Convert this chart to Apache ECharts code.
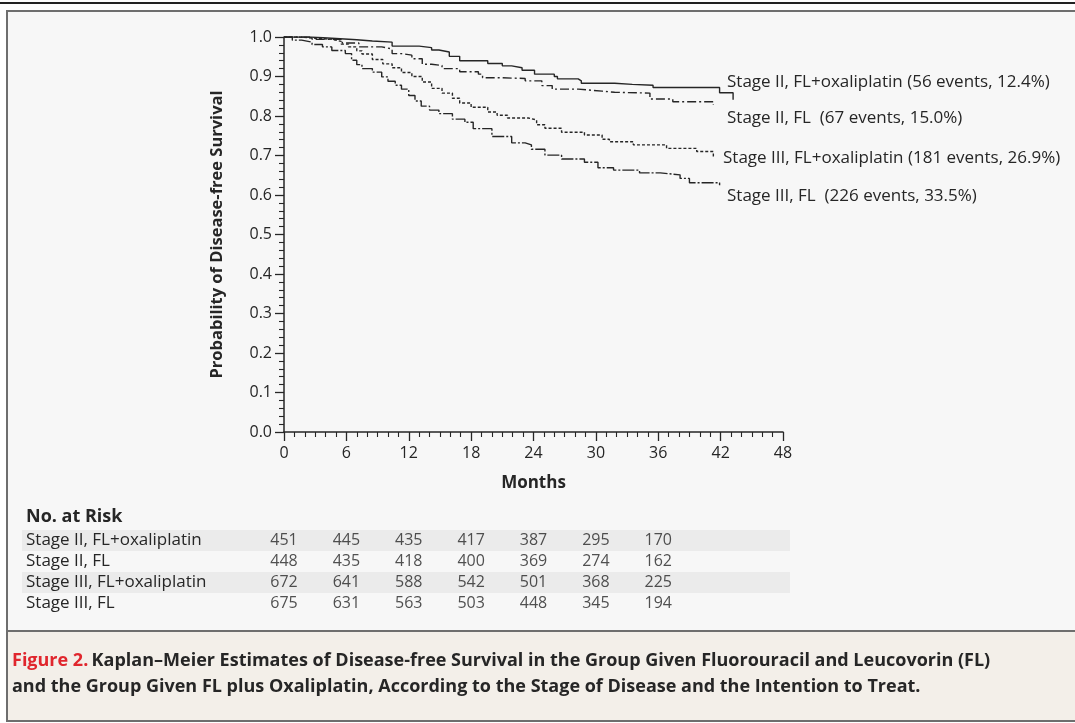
<!DOCTYPE html>
<html><head><meta charset="utf-8">
<script src="https://cdn.jsdelivr.net/npm/echarts@6/dist/echarts.min.js"></script>
<style>html,body{margin:0;padding:0;background:#fff}#c{width:1075px;height:723px}</style>
</head><body><div id="c"></div>
<script>
// ---- data ----
const monthTicks = [0, 6, 12, 18, 24, 30, 36, 42, 48];
const seriesNames = ['Stage II, FL+oxaliplatin', 'Stage II, FL', 'Stage III, FL+oxaliplatin', 'Stage III, FL'];
const curveLabels = [
  'Stage II, FL+oxaliplatin (56 events, 12.4%)',
  'Stage II, FL  (67 events, 15.0%)',
  'Stage III, FL+oxaliplatin (181 events, 26.9%)',
  'Stage III, FL  (226 events, 33.5%)'
];
const stage2Oxa = [[0,1],[2.5,0.997],[4.6,0.993],[7,0.99],[8.5,0.987],[10.4,0.977],[13,0.973],[14.2,0.967],[14.9,0.962],[15.9,0.951],[16.9,0.94],[19.6,0.933],[21,0.927],[21.9,0.922],[22.9,0.916],[24.1,0.906],[26,0.9],[26.3,0.894],[28.3,0.889],[28.6,0.883],[31.8,0.88],[33.5,0.878],[35.5,0.872],[41.9,0.859],[43.2,0.841]];
const stage2FL = [[0,1],[2.7,0.994],[5.6,0.985],[7.2,0.975],[9.4,0.97],[10.4,0.958],[11.3,0.954],[12.3,0.945],[13.3,0.931],[14.2,0.928],[15.2,0.92],[16.9,0.912],[18.7,0.906],[19.1,0.897],[20.6,0.895],[23.2,0.889],[24.8,0.877],[25.8,0.868],[28.3,0.863],[30.6,0.86],[31.8,0.858],[35.2,0.843],[37.4,0.836],[41.3,0.828]];
const stage3Oxa = [[0,1],[1.5,0.997],[3,0.994],[4.6,0.989],[5.5,0.982],[6.2,0.975],[7,0.965],[7.5,0.957],[8.5,0.943],[9.5,0.932],[10.4,0.922],[11.3,0.91],[12.3,0.9],[13.3,0.886],[14.2,0.87],[15.2,0.858],[16.2,0.845],[16.9,0.833],[18,0.822],[19.6,0.81],[20.5,0.802],[21.5,0.795],[23.5,0.79],[24.3,0.778],[25.1,0.769],[26.7,0.759],[28.9,0.752],[30.6,0.741],[31.3,0.735],[33.6,0.727],[36.8,0.718],[39.7,0.71],[41.3,0.697]];
const stage3FL = [[0,1],[0.8,0.992],[1.7,0.987],[2.7,0.981],[3.7,0.975],[4.6,0.966],[5.9,0.958],[6.5,0.941],[7,0.93],[7.5,0.92],[8.5,0.911],[9.4,0.899],[10,0.888],[10.7,0.878],[11.3,0.868],[12,0.852],[12.6,0.838],[13.2,0.825],[14,0.815],[14.9,0.806],[16.2,0.792],[17.4,0.784],[18.2,0.768],[20,0.748],[21.9,0.732],[23.2,0.727],[23.8,0.716],[25.1,0.701],[26.7,0.691],[28.9,0.683],[30.2,0.669],[31.7,0.663],[34.2,0.656],[36.2,0.651],[38.1,0.642],[39,0.631],[41.9,0.625]];
const riskMonths = [0, 6, 12, 18, 24, 30, 36];
const risk2Oxa = [451, 445, 435, 417, 387, 295, 170];
const risk2FL = [448, 435, 418, 400, 369, 274, 162];
const risk3Oxa = [672, 641, 588, 542, 501, 368, 225];
const risk3FL = [675, 631, 563, 503, 448, 345, 194];
const captionLead = 'Figure 2.';
const captionLine1 = 'Kaplan–Meier Estimates of Disease-free Survival in the Group Given Fluorouracil and Leucovorin (FL)';
const captionLine2 = 'and the Group Given FL plus Oxaliplatin, According to the Stage of Disease and the Intention to Treat.';

// ---- chart ----
const FONT = '"Open Sans"';
const INK = '#262626';
const curves = [stage2Oxa, stage2FL, stage3Oxa, stage3FL];
const dashes = ['solid', [9, 3, 2, 3], [3, 2], [12, 2, 2, 2]];
const risks = [risk2Oxa, risk2FL, risk3Oxa, risk3FL];

const chart = echarts.init(document.getElementById('c'), null, {renderer: 'canvas'});

const series = curves.map((d, i) => ({
  type: 'line', name: seriesNames[i], data: d, step: 'end', symbol: 'none',
  xAxisIndex: 0, yAxisIndex: 0, silent: true,
  lineStyle: {color: INK, width: 1.4, type: dashes[i]}
}));
risks.forEach((r, i) => {
  series.push({
    type: 'scatter', xAxisIndex: 1, yAxisIndex: 1, symbolSize: 1, silent: true,
    itemStyle: {color: 'rgba(0,0,0,0)'},
    data: riskMonths.map((m, k) => [m, seriesNames[i], r[k]]),
    label: {show: true, position: 'inside', formatter: p => p.value[2], fontFamily: FONT, fontSize: 16, color: INK}
  });
});

const labelY = [82, 118, 158, 196];
const labelX = [727, 727, 723, 727];
const graphics = [
  {type: 'rect', z: -20, shape: {x: 0, y: 2, width: 1075, height: 2}, style: {fill: '#222'}},
  {type: 'rect', z: -20, shape: {x: 7, y: 11, width: 1080, height: 710}, style: {fill: '#f7f7f7', stroke: '#6e6e6e', lineWidth: 2}},
  {type: 'rect', z: -19, shape: {x: 7, y: 631, width: 1080, height: 90}, style: {fill: '#f3efe9', stroke: '#6e6e6e', lineWidth: 2}},
  {type: 'rect', z: -18, shape: {x: 22, y: 530, width: 768, height: 21}, style: {fill: '#ebebeb'}},
  {type: 'rect', z: -18, shape: {x: 22, y: 572, width: 768, height: 21}, style: {fill: '#ebebeb'}},
  {type: 'text', x: 26, y: 517, style: {text: 'No. at Risk', font: 'bold 18px ' + FONT, fill: INK, verticalAlign: 'middle'}},
  {type: 'text', x: 12, y: 648, style: {
    text: '{r|' + captionLead + '} {b|' + captionLine1 + '}\n{b|' + captionLine2 + '}',
    rich: {
      r: {fontFamily: FONT, fontWeight: 'bold', fontSize: 18, fill: '#e0262d', lineHeight: 26},
      b: {fontFamily: FONT, fontWeight: 'bold', fontSize: 18, fill: '#262626', lineHeight: 26}
    }
  }}
];
curveLabels.forEach((t, i) => graphics.push({
  type: 'text', x: labelX[i], y: labelY[i],
  style: {text: t, font: '17px ' + FONT, fill: INK, verticalAlign: 'middle'}
}));

const axisTxt = {fontFamily: FONT, fontSize: 16, color: INK};
chart.setOption({
  animation: false,
  backgroundColor: 'transparent',
  grid: [
    {left: 284, top: 37, width: 499, height: 395},
    {left: 284, top: 530, width: 499, height: 84}
  ],
  xAxis: [
    {type: 'value', gridIndex: 0, min: 0, max: 48, interval: 6,
     axisLine: {show: true, lineStyle: {color: INK, width: 1.5}},
     axisTick: {show: true, length: 9, lineStyle: {color: INK, width: 1.3}},
     minorTick: {show: true, splitNumber: 6, length: 5, lineStyle: {color: INK, width: 1.1}},
     axisLabel: Object.assign({margin: 13, customValues: monthTicks}, axisTxt),
     splitLine: {show: false},
     name: 'Months', nameLocation: 'middle', nameGap: 43,
     nameTextStyle: {fontFamily: FONT, fontSize: 17, fontWeight: 'bold', color: INK}},
    {type: 'value', gridIndex: 1, min: 0, max: 48, show: false}
  ],
  yAxis: [
    {type: 'value', gridIndex: 0, min: 0, max: 1, interval: 0.1,
     axisLine: {show: true, lineStyle: {color: INK, width: 1.5}},
     axisTick: {show: true, length: 9, lineStyle: {color: INK, width: 1.3}},
     minorTick: {show: true, splitNumber: 5, length: 5, lineStyle: {color: INK, width: 1.1}},
     axisLabel: Object.assign({margin: 12, formatter: v => v.toFixed(1)}, axisTxt),
     splitLine: {show: false},
     name: 'Probability of Disease-free Survival', nameLocation: 'middle', nameGap: 58,
     nameTextStyle: {fontFamily: FONT, fontSize: 16.5, fontWeight: 'bold', color: INK}},
    {type: 'category', gridIndex: 1, data: seriesNames, inverse: true,
     axisLine: {show: false}, axisTick: {show: false}, splitLine: {show: false},
     axisLabel: {interval: 0, hideOverlap: false, margin: 258, align: 'left', fontFamily: FONT, fontSize: 17, color: INK}}
  ],
  graphic: {elements: graphics},
  series: series
});
</script></body></html>
